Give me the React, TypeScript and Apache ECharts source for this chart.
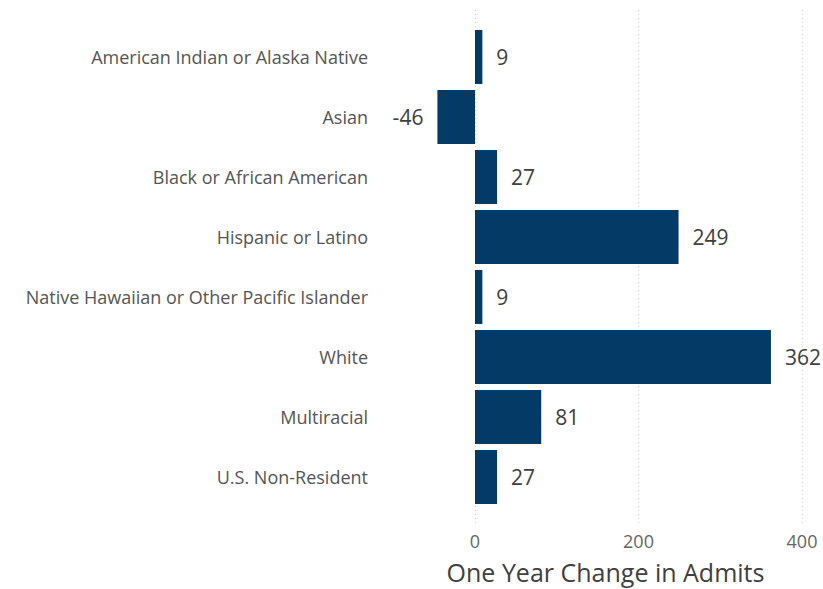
import React, { useEffect, useRef } from "react";
import * as echarts from "echarts";

const categories = [
  "American Indian or Alaska Native",
  "Asian",
  "Black or African American",
  "Hispanic or Latino",
  "Native Hawaiian or Other Pacific Islander",
  "White",
  "Multiracial",
  "U.S. Non-Resident",
];
const values = [9, -46, 27, 249, 9, 362, 81, 27];
const axisTitle = "One Year Change in Admits";
const xMin = -115;
const xMax = 400;

const FONT = "'Segoe UI', 'Open Sans', sans-serif";

export default function App() {
  const ref = useRef<HTMLDivElement>(null);
  useEffect(() => {
    if (!ref.current) return;
    const chart = echarts.init(ref.current, null, { renderer: "svg" });
    const left = 381;
    const right = 21;
    chart.setOption({
      animation: false,
      backgroundColor: "#ffffff",
      grid: [
        { left, right, top: 27, height: 480 },
        { left, right, top: 10, height: 520 },
      ],
      xAxis: [
        {
          gridIndex: 0,
          type: "value",
          min: xMin,
          max: xMax,
          splitNumber: 3,
          axisLine: { show: false },
          axisTick: { show: false },
          axisLabel: { show: false },
          splitLine: { show: false },
        },
        {
          gridIndex: 1,
          type: "value",
          min: xMin,
          max: xMax,
          splitNumber: 3,
          axisLine: { show: false },
          axisTick: { show: false },
          axisLabel: {
            showMinLabel: false,
            margin: 8,
            fontFamily: FONT,
            fontSize: 18,
            lineHeight: 18,
            color: "#666666",
          },
          splitLine: {
            show: true,
            showMinLine: false,
            lineStyle: { type: [1, 3], color: "#d0d0d0", width: 1 },
          },
          name: axisTitle,
          nameLocation: "middle",
          nameGap: 35,
          nameTextStyle: {
            fontFamily: FONT,
            fontSize: 25,
            lineHeight: 25,
            color: "#404040",
            padding: [0, 0, 0, 28],
          },
        },
      ],
      yAxis: [
        {
          gridIndex: 0,
          type: "category",
          data: categories,
          inverse: true,
          axisLine: { show: false },
          axisTick: { show: false },
          axisLabel: {
            margin: 13,
            fontFamily: FONT,
            fontSize: 18,
            color: "#555555",
          },
        },
        {
          gridIndex: 1,
          type: "value",
          show: false,
          splitLine: { show: false },
        },
      ],
      series: [
        {
          type: "bar",
          xAxisIndex: 0,
          yAxisIndex: 0,
          barCategoryGap: "10%",
          itemStyle: { color: "#043B66" },
          data: values.map((v) => ({
            value: v,
            label: { position: v < 0 ? "left" : "right" },
          })),
          label: {
            show: true,
            distance: 14,
            fontFamily: FONT,
            fontSize: 21,
            color: "#404040",
          },
        },
        {
          type: "scatter",
          xAxisIndex: 1,
          yAxisIndex: 1,
          data: [],
        },
      ],
    });
    return () => chart.dispose();
  }, []);
  return (
    <div
      ref={ref}
      style={{ position: "fixed", left: 0, top: 0, width: 823, height: 589 }}
    />
  );
}
